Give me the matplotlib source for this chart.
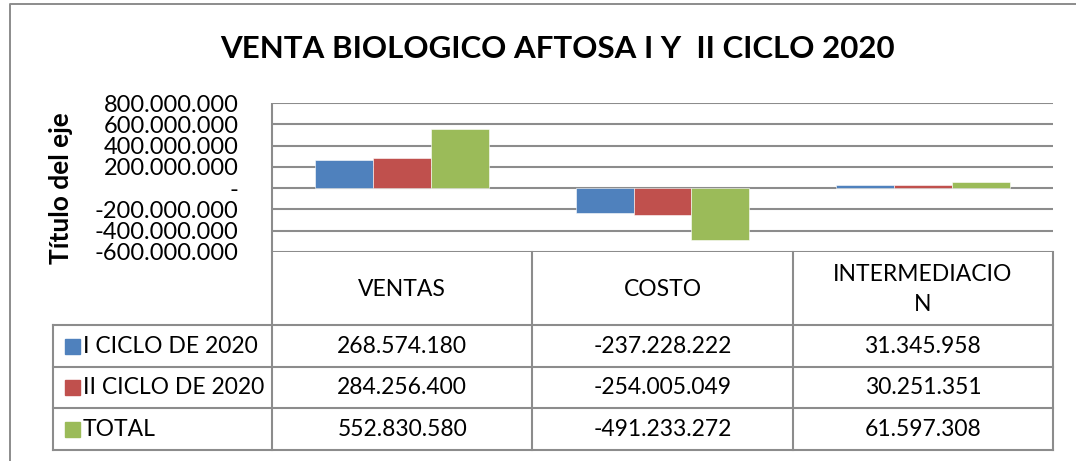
import matplotlib
matplotlib.use("Agg")
import matplotlib.pyplot as plt
from matplotlib.lines import Line2D
from matplotlib.patches import Rectangle
import matplotlib.transforms as mtransforms
import numpy as np

# ---- data ----
categories = ["VENTAS", "COSTO", "INTERMEDIACION"]
category_labels = ["VENTAS", "COSTO", "INTERMEDIACIO\nN"]
series_names = ["I CICLO DE 2020", "II CICLO DE 2020", "TOTAL"]
ciclo_1 = [268574180, -237228222, 31345958]
ciclo_2 = [284256400, -254005049, 30251351]
total = [552830580, -491233272, 61597308]
y_ticks = [-600000000, -400000000, -200000000, 0, 200000000,
           400000000, 600000000, 800000000]

series_values = [ciclo_1, ciclo_2, total]
colors = ["#4F81BD", "#C0504D", "#9BBB59"]
grid_color = "#8C8C8C"

FONT = "Lato"
plt.rcParams["font.family"] = [FONT, "DejaVu Sans"]

W, H = 1076, 461
fig = plt.figure(figsize=(W / 100, H / 100), dpi=100)


def fx(px):
    return px / W


def fy(py):
    return 1 - py / H


def fmt(v):
    if v == 0:
        return "-"
    s = f"{abs(int(v)):,}".replace(",", ".")
    return ("-" if v < 0 else "") + s


# chart frame (left + top)
fig.add_artist(Line2D([fx(10), fx(10), fx(1076)], [fy(461), fy(4.5), fy(4.5)],
                      transform=fig.transFigure, color="#8C8C8C", lw=1.4))

ax = fig.add_axes([fx(272), fy(252), fx(1053) - fx(272), fy(103) - fy(252)])
ax.set_xlim(-0.5, 2.5)
ax.set_ylim(y_ticks[0], y_ticks[-1])

x = np.arange(len(categories))
w = 0.222
for i, (name, vals, c) in enumerate(zip(series_names, series_values, colors)):
    ax.bar(x + (i - 1) * w, vals, width=w, color=c, edgecolor="white",
           linewidth=0.4, zorder=3)

ax.set_yticks(y_ticks)
ax.set_yticklabels([fmt(v) for v in y_ticks], fontsize=17)
ax.set_xticks([])
ax.tick_params(axis="y", length=0, pad=24)
for yv in y_ticks:
    ax.axhline(yv, color=grid_color, lw=1.5, zorder=1)
for s in ["top", "right", "bottom"]:
    ax.spines[s].set_visible(False)
ax.spines["left"].set_color(grid_color)
ax.spines["left"].set_linewidth(1.5)
ax.spines["left"].set_capstyle("butt")

fig.text(fx(61), fy(188), "Título del eje", rotation=90, ha="center",
         va="center", fontsize=19, fontweight="bold")

fig.text(fx(557), fy(49), "VENTA BIOLOGICO AFTOSA I Y  II CICLO 2020",
         ha="center", va="center", fontsize=22.5, fontweight="bold")

# ---- data table ----
bt = mtransforms.blended_transform_factory(ax.transData, fig.transFigure)
tab_top, head_bot = 252, 325
row_lines = [325, 367, 408, 450]
lw_t = 1.5
# vertical lines at category boundaries
for b in np.arange(len(categories) + 1) - 0.5:
    fig.add_artist(Line2D([b, b], [fy(tab_top), fy(row_lines[-1])],
                          transform=bt, color=grid_color, lw=lw_t))
# horizontal lines
for ry in row_lines:
    fig.add_artist(Line2D([fx(53), fx(1053)], [fy(ry), fy(ry)],
                          transform=fig.transFigure, color=grid_color, lw=lw_t))
fig.add_artist(Line2D([fx(53), fx(53)], [fy(row_lines[0]), fy(row_lines[-1])],
                      transform=fig.transFigure, color=grid_color, lw=lw_t))

# header labels
for i, lab in enumerate(category_labels):
    fig.text(i, fy((tab_top + head_bot) / 2 + 1), lab, transform=bt,
             ha="center", va="center", fontsize=16.5, linespacing=1.5)

# rows
for r, (name, vals, c) in enumerate(zip(series_names, series_values, colors)):
    cy = (row_lines[r] + row_lines[r + 1]) / 2
    fig.add_artist(Rectangle((fx(65), fy(cy + 7.5)), fx(15), 15 / H,
                             transform=fig.transFigure, color=c))
    fig.text(fx(83), fy(cy), name, ha="left", va="center", fontsize=16.5)
    for i, v in enumerate(vals):
        fig.text(i, fy(cy), fmt(v), transform=bt, ha="center", va="center",
                 fontsize=16.5)

fig.savefig("out.png", dpi=100)
